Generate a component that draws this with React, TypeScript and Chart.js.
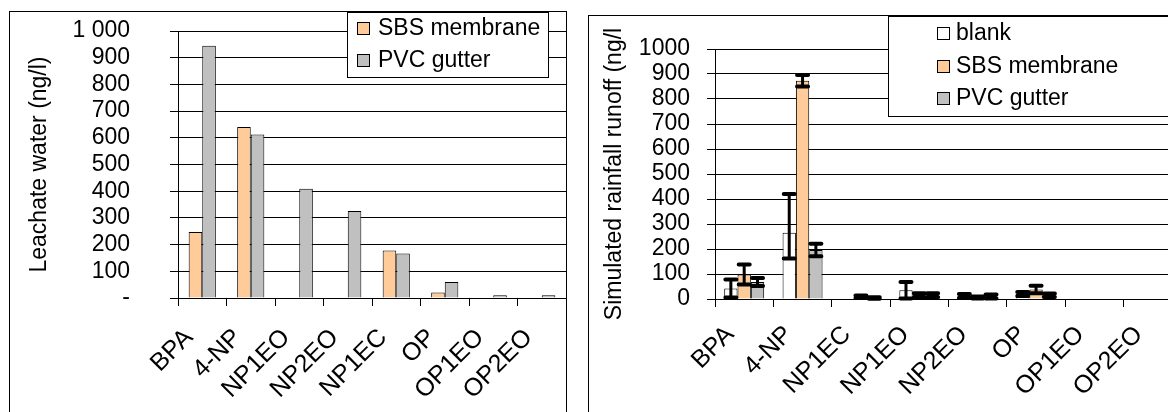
import React, { useEffect, useRef } from 'react';
import { Chart, registerables } from 'chart.js';

Chart.register(...registerables);

const FONT = "'Liberation Sans', Arial, sans-serif";

// ---- Left chart data ----
const leftCategories = ['BPA', '4-NP', 'NP1EO', 'NP2EO', 'NP1EC', 'OP', 'OP1EO', 'OP2EO'];
const leftSBS = [247, 640, 0, 0, 178, 21, 0, 0];
const leftPVC = [945, 612, 409, 326, 167, 60, 10, 10];
const leftTicksMax = 1000;
const leftTicksStep = 100;

// ---- Right chart data ----
const rightCategories = ['BPA', '4-NP', 'NP1EC', 'NP1EO', 'NP2EO', 'OP', 'OP1EO', 'OP2EO'];
const rightBlank = [42, 265, 0, 35, 12, 20, 0, 0];
const rightBlankErrUp = [36, 155, 0, 33, 8, 8, 0, 0];
const rightBlankErrDown = [36, 103, 0, 33, 8, 8, 0, 0];
const rightSBS = [98, 873, 9, 15, 6, 38, 0, 0];
const rightSBSErr = [40, 23, 5, 8, 4, 15, 0, 0];
const rightPVC = [68, 196, 4, 15, 10, 15, 0, 0];
const rightPVCErr = [16, 25, 3, 8, 8, 7, 0, 0];
const rightTicksMax = 1000;
const rightTicksStep = 100;

const COLOR_SBS = '#FFCC99';
const COLOR_PVC = '#C0C0C0';
const COLOR_BLANK = '#FFFFFF';

const errorBarPlugin = {
  id: 'errorBars',
  afterDatasetsDraw(chart: any) {
    const ctx = chart.ctx;
    const yScale = chart.scales.y;
    chart.data.datasets.forEach((ds: any, di: number) => {
      const up = ds.errUp;
      const down = ds.errDown;
      if (!up) return;
      const meta = chart.getDatasetMeta(di);
      meta.data.forEach((bar: any, i: number) => {
        const v = ds.data[i];
        const eu = up[i] || 0;
        const ed = (down || up)[i] || 0;
        if (!eu && !ed) return;
        const x = bar.x;
        const yTop = yScale.getPixelForValue(v + eu);
        const yBot = yScale.getPixelForValue(Math.max(0, v - ed));
        ctx.save();
        ctx.strokeStyle = '#000';
        ctx.lineCap = 'round';
        ctx.lineWidth = 3;
        ctx.beginPath();
        ctx.moveTo(x, yTop);
        ctx.lineTo(x, yBot);
        ctx.stroke();
        ctx.lineWidth = 4;
        const hw = 5.5;
        ctx.beginPath();
        ctx.moveTo(x - hw, yTop);
        ctx.lineTo(x + hw, yTop);
        ctx.moveTo(x - hw, yBot);
        ctx.lineTo(x + hw, yBot);
        ctx.stroke();
        ctx.restore();
      });
    });
  },
};

const boxLegendPlugin = {
  id: 'boxLegend',
  afterDatasetsDraw(chart: any, _args: any, opts: any) {
    if (!opts || !opts.w) return;
    const ctx = chart.ctx;
    ctx.save();
    ctx.fillStyle = '#fff';
    ctx.fillRect(opts.x, opts.y, opts.w, opts.h);
    ctx.strokeStyle = '#000';
    ctx.lineWidth = 1;
    ctx.strokeRect(opts.x + 0.5, opts.y + 0.5, opts.w, opts.h);
    ctx.font = `${opts.fontSize}px ${FONT}`;
    ctx.textBaseline = 'middle';
    ctx.textAlign = 'left';
    chart.data.datasets.forEach((ds: any, i: number) => {
      const cy = opts.rows[i];
      const s = opts.marker;
      ctx.fillStyle = ds.backgroundColor;
      ctx.fillRect(opts.markerX, cy - s / 2, s, s);
      ctx.strokeStyle = '#000';
      ctx.strokeRect(opts.markerX + 0.5, cy - s / 2 + 0.5, s, s);
      ctx.fillStyle = '#000';
      ctx.fillText(ds.label, opts.textX, cy + 1);
    });
    ctx.restore();
  },
};

function fmtSpace(v: number) {
  if (v === 0) return '-';
  return String(v).replace(/\B(?=(\d{3})+(?!\d))/g, ' ');
}

function LeftChart() {
  const ref = useRef<HTMLCanvasElement | null>(null);
  useEffect(() => {
    if (!ref.current) return;
    const chart = new Chart(ref.current, {
      type: 'bar',
      data: {
        labels: leftCategories,
        datasets: [
          { label: 'SBS membrane', data: leftSBS, backgroundColor: COLOR_SBS, borderColor: '#000', borderWidth: 1, barPercentage: 1, categoryPercentage: 0.56 },
          { label: 'PVC gutter', data: leftPVC, backgroundColor: COLOR_PVC, borderColor: '#000', borderWidth: 1, barPercentage: 1, categoryPercentage: 0.56 },
        ],
      },
      options: {
        animation: false,
        responsive: false,
        layout: { padding: { top: 19, left: 0, right: 0, bottom: 0 } },
        plugins: {
          legend: { display: false },
          tooltip: { enabled: false },
          boxLegend: { x: 337, y: 0, w: 201, h: 65, markerX: 347, textX: 368, rows: [16, 48], marker: 12, fontSize: 23 },
        } as any,
        scales: {
          x: {
            ticks: { color: '#000', font: { family: FONT, size: 25 }, maxRotation: 45, minRotation: 45, padding: 17, labelOffset: -13, autoSkip: false },
            grid: { drawOnChartArea: false, drawTicks: true, tickLength: 8, color: '#000', offset: true },
            border: { color: '#000' },
            afterFit: (s: any) => { s.height = 114; s.paddingLeft = 0; s.paddingRight = 0; },
          },
          y: {
            min: 0,
            max: leftTicksMax,
            ticks: { stepSize: leftTicksStep, autoSkip: false, color: '#000', font: { family: FONT, size: 23 }, padding: 40, callback: (v: any) => fmtSpace(Number(v)) },
            grid: { color: '#000', lineWidth: 1, tickLength: 8, drawTicks: true },
            border: { color: '#000' },
            title: { display: true, text: 'Leachate water (ng/l)', color: '#000', font: { family: FONT, size: 23 }, padding: { top: 16, bottom: 0 } },
            afterFit: (s: any) => { s.width = 168; s.paddingTop = 0; s.paddingBottom = 0; },
          },
        },
      },
      plugins: [boxLegendPlugin],
    });
    return () => chart.destroy();
  }, []);
  return <canvas ref={ref} width={556} height={400} style={{ width: 556, height: 400, display: 'block' }} />;
}

function RightChart() {
  const ref = useRef<HTMLCanvasElement | null>(null);
  useEffect(() => {
    if (!ref.current) return;
    const common = { borderColor: '#000', borderWidth: 1, barPercentage: 1, categoryPercentage: 0.685 };
    const chart = new Chart(ref.current, {
      type: 'bar',
      data: {
        labels: rightCategories,
        datasets: [
          { label: 'blank', data: rightBlank, backgroundColor: COLOR_BLANK, errUp: rightBlankErrUp, errDown: rightBlankErrDown, ...common } as any,
          { label: 'SBS membrane', data: rightSBS, backgroundColor: COLOR_SBS, errUp: rightSBSErr, errDown: rightSBSErr, ...common } as any,
          { label: 'PVC gutter', data: rightPVC, backgroundColor: COLOR_PVC, errUp: rightPVCErr, errDown: rightPVCErr, ...common } as any,
        ],
      },
      options: {
        animation: false,
        responsive: false,
        layout: { padding: { top: 33, left: 0, right: 0, bottom: 0 } },
        plugins: {
          legend: { display: false },
          tooltip: { enabled: false },
          boxLegend: { x: 299, y: 0, w: 400, h: 100, markerX: 348, textX: 367, rows: [17, 50, 82], marker: 12, fontSize: 23 },
        } as any,
        scales: {
          x: {
            ticks: { color: '#000', font: { family: FONT, size: 25 }, maxRotation: 45, minRotation: 45, padding: 13, labelOffset: -14, autoSkip: false },
            grid: { drawOnChartArea: false, drawTicks: true, tickLength: 8, color: '#000', offset: true },
            border: { color: '#000' },
            afterFit: (s: any) => { s.height = 113; s.paddingLeft = 0; s.paddingRight = 0; },
          },
          y: {
            min: 0,
            max: rightTicksMax,
            ticks: { stepSize: rightTicksStep, autoSkip: false, color: '#000', font: { family: FONT, size: 23 }, padding: 17, callback: (v: any) => String(v) },
            grid: { color: '#000', lineWidth: 1, tickLength: 8, drawTicks: true },
            border: { color: '#000' },
            title: { display: true, text: 'Simulated rainfall runoff (ng/l', color: '#000', font: { family: FONT, size: 23 }, padding: { top: 12, bottom: 0 } },
            afterFit: (s: any) => { s.width = 126; s.paddingTop = 0; s.paddingBottom = 0; },
          },
        },
      },
      plugins: [errorBarPlugin, boxLegendPlugin],
    });
    return () => chart.destroy();
  }, []);
  return <canvas ref={ref} width={593} height={396} style={{ width: 593, height: 396, display: 'block' }} />;
}

export default function App() {
  return (
    <div style={{ position: 'fixed', left: 0, top: 0, width: 1168, height: 412, overflow: 'hidden', background: '#fff' }}>
      <div style={{ position: 'absolute', left: 9, top: 11, width: 556, height: 420, border: '1px solid #000', boxSizing: 'content-box' }}>
        <LeftChart />
      </div>
      <div style={{ position: 'absolute', left: 588, top: 15, width: 600, height: 420, border: '1px solid #000', boxSizing: 'content-box' }}>
        <RightChart />
      </div>
    </div>
  );
}
